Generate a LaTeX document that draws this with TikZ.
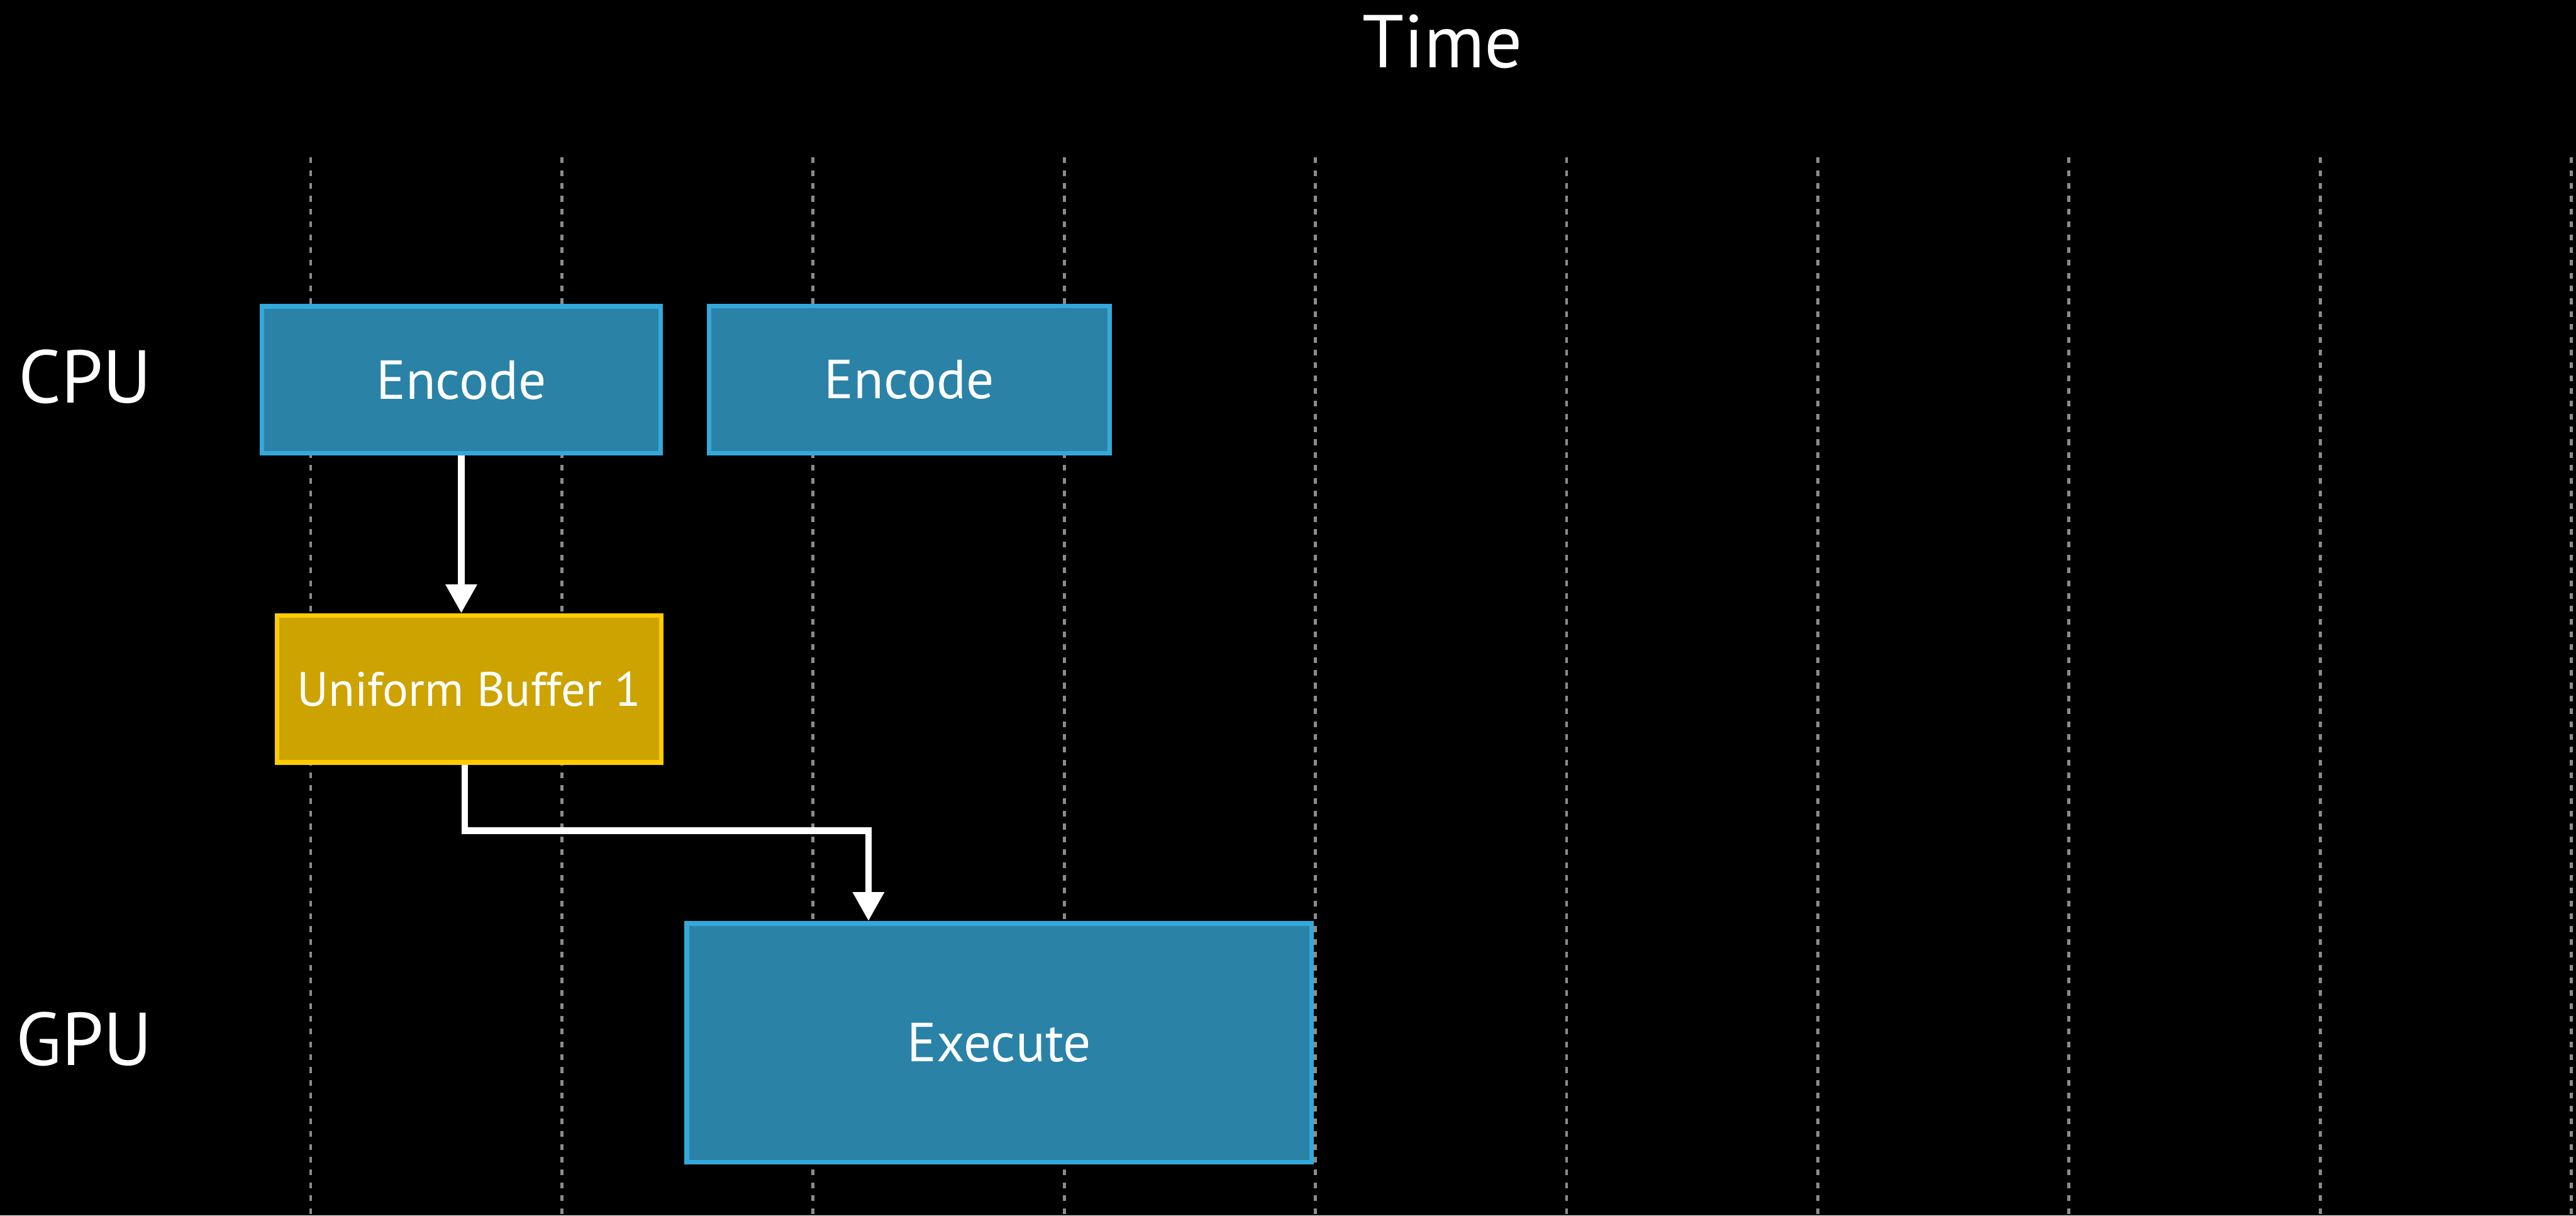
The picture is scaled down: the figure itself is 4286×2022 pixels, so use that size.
\documentclass[tikz,border=0pt]{standalone}
\usepackage{fontspec}
\setmainfont{PT Sans}
\usetikzlibrary{arrows.meta}

\definecolor{boxfill}{HTML}{2A82A7}
\definecolor{boxedge}{HTML}{34A8DB}
\definecolor{buffill}{HTML}{CCA300}
\definecolor{bufedge}{HTML}{FFCC00}
\definecolor{tickgray}{HTML}{8C8C8C}

\tikzset{
  px/.style={x=0.01cm, y=-0.01cm},
  workbox/.style={draw=boxedge, fill=boxfill, line width=0.08cm, text=white,
    font=\fontsize{26}{30}\selectfont, inner sep=0pt},
  bufbox/.style={draw=bufedge, fill=buffill, line width=0.08cm, text=white,
    font=\fontsize{22.8}{27}\selectfont, inner sep=0pt},
  lanelabel/.style={text=white, font=\fontsize{35.4}{40}\selectfont, inner sep=0pt},
  tick/.style={draw=tickgray, line width=0.05cm, dash pattern=on 0.095cm off 0.118cm},
  flow/.style={draw=white, line width=0.11cm,
    -{Triangle[width=0.5cm, length=0.48cm]}}
}

\begin{document}
\begin{tikzpicture}[px]
  % canvas
  \fill[black] (0,0) rectangle (4286,2022);
  \useasboundingbox (0,0) rectangle (4286,2022);

  % time grid
  \foreach \i in {0,...,9} {
    \draw[tick] ({517+417.9*\i},262) -- ({517+417.9*\i},2022);
  }

  % headings
  \node[lanelabel, anchor=base] (time) at (2400,112) {Time};
  \node[lanelabel, anchor=base west] (cpu) at (30,670) {CPU};
  \node[lanelabel, anchor=base west] (gpu) at (26,1772) {GPU};

  % work items
  \node[workbox, minimum width=6.63cm, minimum height=2.44cm] (enc1) at (767.5,632) {Encode};
  \node[workbox, minimum width=6.66cm, minimum height=2.45cm] (enc2) at (1513,631.5) {Encode};
  \node[bufbox, minimum width=6.39cm, minimum height=2.44cm] (buf) at (780.5,1146) {Uniform Buffer 1};
  \node[workbox, minimum width=10.39cm, minimum height=3.97cm] (exec) at (1662.5,1734.5) {Execute};

  % data flow
  \coordinate (bend) at (1445,1382);
  \draw[flow] (enc1.south) -- (enc1.south |- buf.north);
  \draw[flow] ([xshift=-0.07cm]buf.south) |- (bend) -- (bend |- exec.north);
\end{tikzpicture}
\end{document}
